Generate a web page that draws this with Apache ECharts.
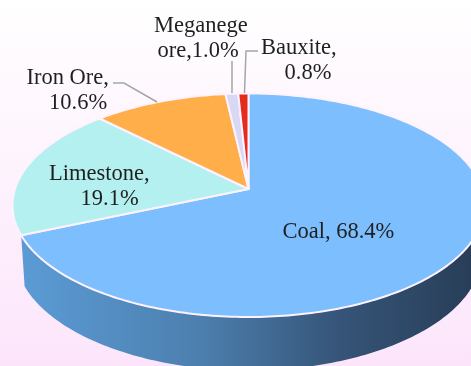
<!DOCTYPE html>
<html><head><meta charset="utf-8">
<style>html,body{margin:0;padding:0;width:471px;height:366px;overflow:hidden}#c{width:471px;height:366px}</style>
<script src="https://cdn.jsdelivr.net/npm/echarts@6/dist/echarts.min.js"></script>
</head><body><div id="c"></div>
<script>
const categories = ['Coal', 'Limestone', 'Iron Ore', 'Meganege ore', 'Bauxite'];
const shares = [68.4, 19.1, 10.6, 1.0, 0.8];
const labelLines = [
  ['Coal, 68.4%'],
  ['Limestone,', '19.1%'],
  ['Iron Ore,', '10.6%'],
  ['Meganege', 'ore,1.0%'],
  ['Bauxite,', '0.8%']
];
const sliceColors = ['#7DBEFF', '#B4F0F0', '#FFAE4A', '#D8D8F4', '#E42C1C'];

// layout only (pixels)
const labelPos = [
  [[282.5, 232]],
  [[49, 174], [80.5, 199]],
  [[26.5, 78], [49, 103]],
  [[154, 26], [157.5, 51]],
  [[261, 48], [284.5, 73]]
];
const leaders = [
  null, null,
  [[157, 102], [124, 83], [113, 83]],
  [[232, 93], [232, 61]],
  [[244.5, 93], [246, 51], [258, 51]]
];
const P = {cx: 248.5, cy: 189, rx: 233.5, ry: 109.4, k: 0.1455, depth: 50.5, frontExtra: 3, shrink: 0.985};

function project(deg) {
  const t = deg * Math.PI / 180, x = Math.sin(t), y = -Math.cos(t), w = 1 - P.k * y;
  return [P.cx + P.rx * x / w, P.cy + P.ry * y / w];
}
function arc(a, b) {
  const pts = [], n = Math.max(2, Math.ceil(Math.abs(b - a)));
  for (let i = 0; i <= n; i++) pts.push(project(a + (b - a) * i / n));
  return pts;
}
const total = shares.reduce((s, v) => s + v, 0);
const startAngle = i => shares.slice(0, i).reduce((s, v) => s + v, 0) / total * 360;

const rows = categories.map((c, i) => [i, shares[i], c]);

function renderWall(params, api) {
  const end = api.value(1) / total * 360;
  const top = arc(70, end);
  const bottom = top.slice().reverse().map(p => {
    const front = Math.max(0, (p[1] - P.cy) / 128);
    return [P.cx + (p[0] - P.cx) * P.shrink, p[1] + P.depth + P.frontExtra * front * front];
  });
  return {
    type: 'polygon',
    shape: {points: top.concat(bottom)},
    style: {
      fill: new echarts.graphic.LinearGradient(22, 0, 471, 0, [
        {offset: 0, color: '#5B9BD5'},
        {offset: 0.4, color: '#4C7FAE'},
        {offset: 0.7, color: '#365579'},
        {offset: 1, color: '#283E58'}
      ], true)
    }
  };
}
function renderSlice(params, api) {
  const i = api.value(0);
  const a = startAngle(i), b = a + api.value(1) / total * 360;
  return {
    type: 'polygon',
    shape: {points: [[P.cx, P.cy]].concat(arc(a, b))},
    style: {fill: sliceColors[i], stroke: '#FDF2FD', lineWidth: 2, lineJoin: 'round'}
  };
}
function renderLabel(params, api) {
  const i = api.value(0), children = [];
  if (leaders[i]) children.push({
    type: 'polyline', shape: {points: leaders[i]},
    style: {fill: 'none', stroke: '#A6A6A6', lineWidth: 1.5}
  });
  labelLines[i].forEach((t, j) => children.push({
    type: 'text', x: labelPos[i][j][0], y: labelPos[i][j][1],
    style: {text: t, fill: '#1f1f1f', font: '22.5px "Liberation Serif"', textAlign: 'left', textVerticalAlign: 'middle'}
  }));
  return {type: 'group', children};
}

const chart = echarts.init(document.getElementById('c'), null, {renderer: 'canvas'});
chart.setOption({
  animation: false,
  backgroundColor: new echarts.graphic.LinearGradient(0, 0, 0, 1, [
    {offset: 0, color: '#FFFFFF'},
    {offset: 1, color: '#FCE5FB'}
  ]),
  series: [
    {type: 'custom', coordinateSystem: 'none', silent: true, renderItem: renderWall,
     data: rows.slice(0, 1), z: 1, clip: false},
    {type: 'custom', coordinateSystem: 'none', silent: true, renderItem: renderSlice,
     data: rows, z: 2, clip: false},
    {type: 'custom', coordinateSystem: 'none', silent: true, renderItem: renderLabel,
     data: rows, z: 3, clip: false}
  ]
});
</script></body></html>
